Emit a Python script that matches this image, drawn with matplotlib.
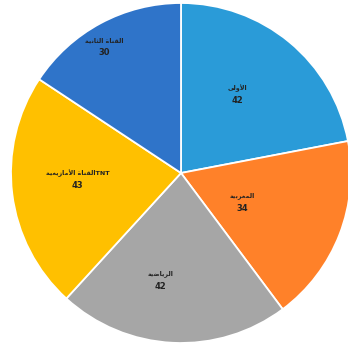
import numpy as np
import matplotlib.pyplot as plt

labels = ["الأولى", "المغربية", "الرياضية", "القناة الأمازيغية", "القناة الثانية"]
suffix = ["", "", "", "TNT", ""]
values = [42, 34, 42, 43, 30]
colors = ["#2a9bd8", "#ff8129", "#a6a6a6", "#ffc000", "#2f74c9"]

# contextual forms: iso, fin, ini, med
DUAL = {
    "ل": "\ufedd\ufede\ufedf\ufee0", "م": "\ufee1\ufee2\ufee3\ufee4",
    "غ": "\ufecd\ufece\ufecf\ufed0", "ب": "\ufe8f\ufe90\ufe91\ufe92",
    "ي": "\ufef1\ufef2\ufef3\ufef4", "ض": "\ufebd\ufebe\ufebf\ufec0",
    "ت": "\ufe95\ufe96\ufe97\ufe98", "ق": "\ufed5\ufed6\ufed7\ufed8",
    "ن": "\ufee5\ufee6\ufee7\ufee8", "ث": "\ufe99\ufe9a\ufe9b\ufe9c",
}
RIGHT = {
    "ا": "\ufe8d\ufe8e", "أ": "\ufe83\ufe84", "و": "\ufeed\ufeee",
    "ى": "\ufeef\ufef0", "ر": "\ufead\ufeae", "ة": "\ufe93\ufe94",
    "ز": "\ufeaf\ufeb0",
}
LAMALEF = {"ا": "\ufefb\ufefc", "أ": "\ufef7\ufef8"}


def shape(text):
    out = []
    prevJoins = False
    i = 0
    while i < len(text):
        c = text[i]
        nxt = text[i + 1] if i + 1 < len(text) else ""
        if c == "ل" and nxt in LAMALEF:
            out.append(LAMALEF[nxt][1 if prevJoins else 0])
            prevJoins = False
            i += 2
            continue
        if c in DUAL:
            nextJoins = nxt in DUAL or nxt in RIGHT
            if prevJoins and nextJoins:
                out.append(DUAL[c][3])
            elif prevJoins:
                out.append(DUAL[c][1])
            elif nextJoins:
                out.append(DUAL[c][2])
            else:
                out.append(DUAL[c][0])
            prevJoins = True
        elif c in RIGHT:
            out.append(RIGHT[c][1 if prevJoins else 0])
            prevJoins = False
        else:
            out.append(c)
            prevJoins = False
        i += 1
    return "".join(out)[::-1]


fig = plt.figure(figsize=(3.48, 3.47), dpi=100)
ax = fig.add_axes([11 / 348, 4 / 347, 340 / 348, 340 / 347])

wedges, _ = ax.pie(values, colors=colors, startangle=90, counterclock=False,
                   radius=1, wedgeprops=dict(edgecolor="white", linewidth=1.3))

# label placement: radial distance and angle shift per slice
dist = [0.57, 0.40, 0.64, 0.61, 0.87]
shift = [4, -4, -8, -3.5, 3]
for w, lab, suf, v, d, s in zip(wedges, labels, suffix, values, dist, shift):
    ang = np.deg2rad((w.theta1 + w.theta2) / 2 + s)
    x, y = d * np.cos(ang), d * np.sin(ang)
    ax.annotate(shape(lab) + suf, (x, y), xytext=(0, 4.6), textcoords="offset points",
                ha="center", va="center", fontsize=4.6, fontweight="bold",
                color="#222222", family=["DejaVu Sans"])
    ax.annotate(str(v), (x, y), xytext=(0, -4.6), textcoords="offset points",
                ha="center", va="center", fontsize=6, fontweight="bold",
                color="#222222", family=["DejaVu Sans"])

ax.set_xlim(-1, 1)
ax.set_ylim(-1, 1)
ax.set_aspect("equal")
ax.axis("off")

fig.savefig("out.png", dpi=100)
